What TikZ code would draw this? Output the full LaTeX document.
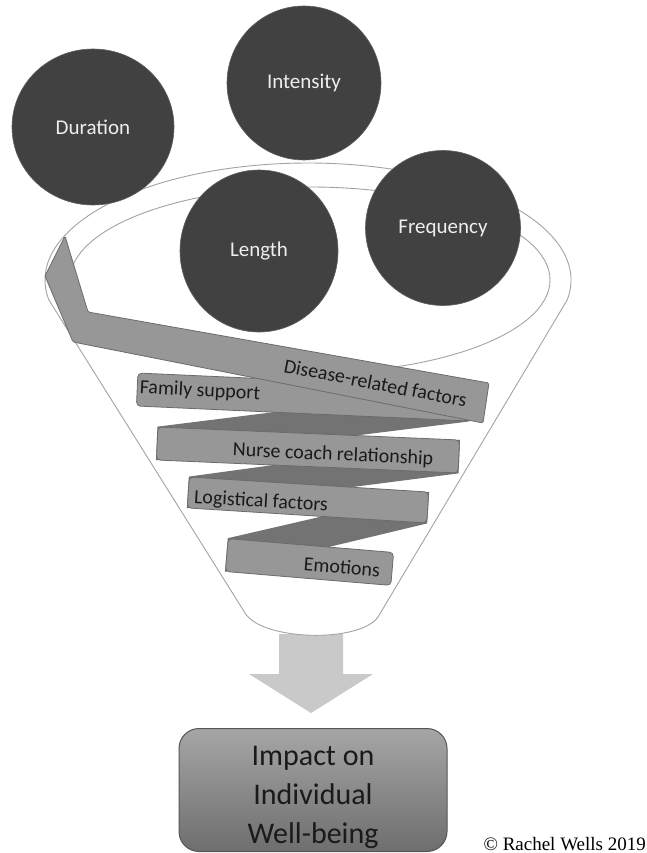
\documentclass[tikz,border=0pt]{standalone}
\usepackage{fontspec}
\setmainfont{Carlito}
\newfontfamily\creditfont{Liberation Serif}
\usetikzlibrary{shapes.geometric}

\definecolor{discfill}{HTML}{414141}
\definecolor{disctext}{HTML}{EEEEEE}
\definecolor{bandfill}{HTML}{979797}
\definecolor{bandedge}{HTML}{6B6B6B}
\definecolor{foldfill}{HTML}{737373}
\definecolor{rimline}{HTML}{A3A3A3}
\definecolor{arrowfill}{HTML}{C9C9C9}
\definecolor{boxtop}{HTML}{A6A6A6}
\definecolor{boxbottom}{HTML}{6E6E6E}
\definecolor{inktext}{HTML}{1A1A1A}

\pgfdeclarelayer{funnellayer}
\pgfdeclarelayer{foldlayer}
\pgfsetlayers{funnellayer,foldlayer,main}

\tikzset{
  disc/.style={ellipse, fill=discfill, draw=discfill!85!white, line width=0.6pt,
    inner sep=0pt, text=disctext, font=\fontsize{21}{25}\selectfont},
  band/.style={rectangle, fill=bandfill, draw=bandedge, line width=0.8pt,
    rounded corners=4pt, inner sep=0pt},
  bandpath/.style={fill=bandfill, draw=bandedge, line width=0.8pt, rounded corners=1.5pt},
  bandlabel/.style={text=inktext, font=\fontsize{20}{24}\selectfont, inner sep=0pt},
  fold/.style={fill=foldfill},
  rim/.style={draw=rimline, line width=0.9pt},
  outcome/.style={rectangle, rounded corners=20pt, draw=bandedge!80!black, line width=1pt,
    top color=boxtop, bottom color=boxbottom},
  outcomelabel/.style={align=center, text=inktext, inner sep=0pt,
    font=\fontsize{30}{39}\selectfont},
}

\begin{document}
\begin{tikzpicture}[x=1pt,y=-1pt]
\useasboundingbox (0,0) rectangle (647,853);

% funnel body and the outflow arrow
\begin{pgfonlayer}{funnellayer}
  \fill[arrowfill] (279,634) -- (343,634) -- (343,674) -- (373,674)
    -- (311,713) -- (249,674) -- (279,674) -- cycle;
  \draw[rim, fill=white] (48.9,300)
    arc[start angle=170.16, end angle=369.84, x radius=263, y radius=117]
    -- (378,617) .. controls (360,643) and (262,641) .. (245,613) -- cycle;
  \draw[rim] (310,280) ellipse[x radius=240, y radius=93];
\end{pgfonlayer}

% ribbon bands spiralling down the funnel
\node[band, minimum width=333, minimum height=33, rotate=-2.58] (family) at (303.5,397) {};
\node[band, minimum width=302, minimum height=33, rotate=-2.46] (nurse) at (308,450) {};
\node[band, minimum width=240, minimum height=31, rotate=-3.6] (logistic) at (308,500) {};
\node[band, minimum width=166, minimum height=33, rotate=-4.8] (emotion) at (309.5,562) {};

% back side of the ribbon between the bands
\begin{pgfonlayer}{foldlayer}
  \fill[fold] (family.north east) -- (family.south east) -- (nurse.south west) -- (nurse.north west) -- cycle;
  \fill[fold] (nurse.north east) -- (nurse.south east) -- (logistic.south west) -- (logistic.north west) -- cycle;
  \fill[fold] (logistic.north east) -- (logistic.south east) -- (emotion.south west) -- (emotion.north west) -- cycle;
\end{pgfonlayer}

% top band, bent at the rim
\draw[bandpath] (65,236) -- (45,276) -- (73,342) -- (483,423) -- (489,383) -- (88,312) -- cycle;

\node[bandlabel, rotate=-11] (diseasetxt) at (375.5,383) {Disease-related factors};
\node[bandlabel, rotate=-3] (familytxt) at (200,391) {Family support};
\node[bandlabel, rotate=-2.5] (nursetxt) at (333,455) {Nurse coach relationship};
\node[bandlabel, rotate=-3.3] (logistictxt) at (261,502) {Logistical factors};
\node[bandlabel, rotate=-4.5] (emotiontxt) at (342,567) {Emotions};

% dose components
\node[disc, minimum width=162, minimum height=156] (duration) at (93,127) {Duration};
\node[disc, minimum width=154, minimum height=154] (intensity) at (304,83) {Intensity};
\node[disc, minimum width=158, minimum height=162] (length) at (259,251) {Length};
\node[disc, minimum width=155, minimum height=155] (frequency) at (443,228) {Frequency};

% outcome
\node[outcome, minimum width=268, minimum height=123] (impact) at (313,790) {};
\node[outcomelabel] (impacttxt) at (313,797) {Impact on\\Individual\\Well-being};

\node[anchor=base east, inner sep=0pt, font=\creditfont\fontsize{19}{22}\selectfont] (credit)
  at (646,850) {© Rachel Wells 2019};
\end{tikzpicture}
\end{document}
